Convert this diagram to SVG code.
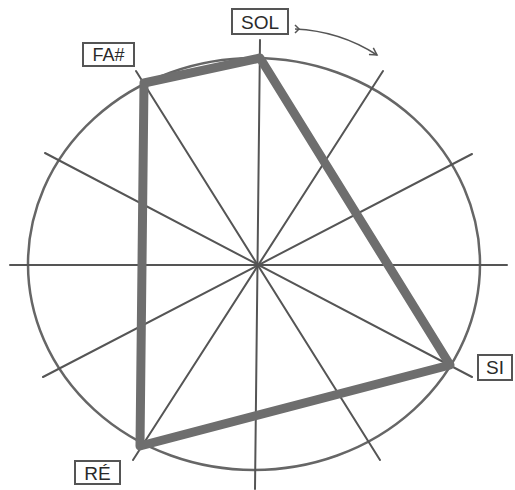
<svg xmlns="http://www.w3.org/2000/svg" width="515" height="490" viewBox="0 0 515 490">
<style>
.ray{stroke:#555;stroke-width:2;fill:none;stroke-linecap:round}
.circ{stroke:#666;stroke-width:2.5;fill:none}
.shape{stroke:#6e6e6e;stroke-width:9;fill:none;stroke-linejoin:round}
.box{fill:#fff;stroke:#555;stroke-width:2}
.lbl{font-family:"Liberation Sans",Arial,sans-serif;fill:#2a2a2a;text-anchor:middle}
</style>
<defs>
<marker id="ah" markerWidth="10" markerHeight="10" refX="8" refY="5" orient="auto" markerUnits="userSpaceOnUse">
<path d="M1,1 L8,5 L1,9" fill="none" stroke="#555" stroke-width="1.5"/>
</marker>
</defs>
<g id="connectors">
<ellipse class="circ" cx="254" cy="264" rx="226" ry="206"/>
<line class="ray" x1="10" y1="265" x2="507" y2="265"/>
<line class="ray" x1="260" y1="40" x2="255" y2="489"/>
<line class="ray" x1="45" y1="153" x2="472" y2="377"/>
<line class="ray" x1="43" y1="377" x2="472" y2="154"/>
<line class="ray" x1="136" y1="71" x2="380" y2="460"/>
<line class="ray" x1="133" y1="460" x2="383" y2="71"/>
<polygon class="shape" points="260,58 144,83 140,446 450,365"/>
<path d="M295,29 Q340,31 377,55" fill="none" stroke="#555" stroke-width="1.5" marker-end="url(#ah)"/>
<path d="M295,25 L299,29 L295,33" fill="none" stroke="#555" stroke-width="1.5"/>
</g>
<g id="sol"><rect class="box" x="232" y="9" width="56" height="25"/><text class="lbl" x="260" y="29" font-size="19">SOL</text></g>
<g id="fa"><rect class="box" x="83" y="43" width="51" height="23"/><text class="lbl" x="108.5" y="61" font-size="18">FA#</text></g>
<g id="si"><rect class="box" x="478" y="355" width="34" height="25"/><text class="lbl" x="495" y="374" font-size="19">SI</text></g>
<g id="re"><rect class="box" x="75" y="461" width="45" height="23"/><text class="lbl" x="97.5" y="480" font-size="19">RÉ</text></g>
</svg>
